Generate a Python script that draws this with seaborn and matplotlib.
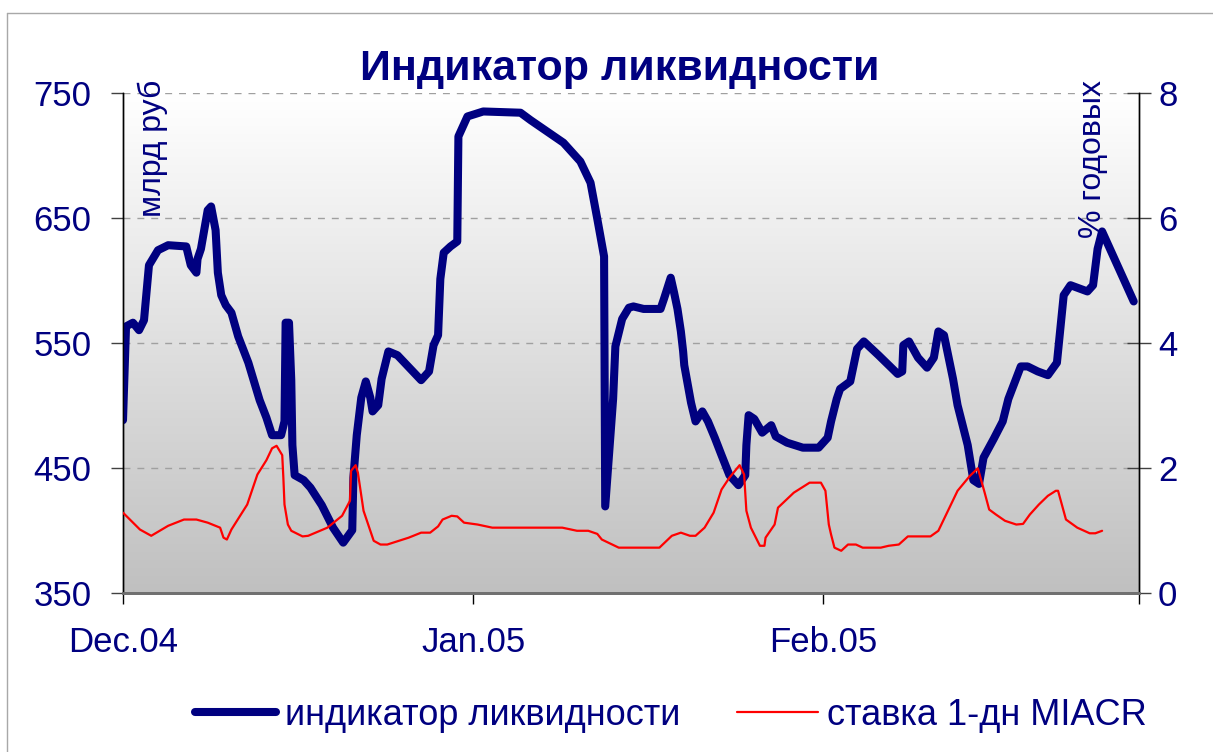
import numpy as np
import pandas as pd
import matplotlib.pyplot as plt
from matplotlib.colors import LinearSegmentedColormap
from matplotlib.lines import Line2D
import seaborn as sns

# liquidity indicator, bn rub; x = days since 1 Dec 2004
liq_days = [0.0, 0.27, 0.88, 1.42, 1.86, 2.3, 3.1, 4.0, 5.6, 6.0, 6.5, 6.6, 6.9, 7.5, 7.8, 8.2,
            8.4, 8.7, 9.1, 9.6, 10.2, 11.1, 12.1, 12.7, 13.2, 14.0, 14.3, 14.4, 14.7, 14.9, 15.0,
            15.2, 16.0, 16.6, 17.6, 18.6, 19.5, 20.3, 20.4, 20.7, 21.1, 21.5, 21.9, 22.1, 22.6,
            22.9, 23.5, 24.3, 26.4, 27.1, 27.5, 27.9, 28.1, 28.4, 29.0, 29.6, 29.7, 30.5, 31.9,
            35.2, 36.1, 39.0, 40.5, 41.4, 42.0, 42.6, 42.7, 43.4, 43.6, 44.2, 44.8, 45.2, 46.1,
            47.6, 47.9, 48.5, 48.8, 49.1, 49.4, 49.6, 49.7, 50.3, 50.7, 51.3, 51.8, 52.4, 53.0,
            53.7, 54.5, 55.1, 55.2, 55.4, 55.9, 56.6, 57.4, 57.8, 58.8, 60.2, 61.6, 62.4, 62.7,
            63.2, 63.5, 64.4, 65.0, 65.6, 66.9, 68.6, 69.0, 69.1, 69.6, 70.4, 71.2, 71.8, 72.2,
            72.7, 73.5, 73.9, 74.8, 75.3, 75.8, 76.2, 77.1, 77.9, 78.4, 79.5, 80.1, 81.0, 81.9,
            82.7, 83.3, 83.9, 85.4, 85.9, 86.3, 86.7, 87.4, 88.1, 89.5]
liq_vals = [488, 563, 566, 560, 568, 612, 624, 628, 627, 612, 606, 617, 625, 656, 659, 640,
            606, 588, 580, 574, 555, 534, 504, 490, 476, 476, 487, 566, 566, 520, 468,
            444, 440, 434, 420, 402, 390, 400, 442, 476, 506, 519, 506, 495, 500,
            521, 543, 540, 520, 527, 548, 556, 601, 622, 627, 631, 715, 731, 735,
            734, 728, 710, 695, 678, 649, 619, 419, 505, 547, 569, 578, 579, 577,
            577, 585, 602, 590, 577, 559, 543, 532, 502, 487, 495, 487, 474, 460,
            444, 436, 444, 468, 492, 489, 478, 484, 475, 470, 466, 466, 474, 487,
            505, 513, 519, 545, 551, 540, 525, 527, 548, 551, 538, 530, 538, 559,
            556, 521, 500, 468, 440, 437, 458, 473, 487, 505, 531, 531, 527, 524,
            534, 588, 596, 591, 596, 625, 639, 625, 611, 583]

# overnight MIACR, % p.a.
rate_days = [0.0, 1.5, 2.5, 4.0, 5.4, 6.5, 7.5, 8.6, 8.9, 9.2, 9.6, 11.0, 11.9, 12.7, 13.2,
             13.6, 14.1, 14.2, 14.3, 14.6, 14.9, 15.9, 16.4, 18.1, 19.4, 20.1, 20.2, 20.6,
             20.8, 21.3, 22.2, 22.8, 23.4, 25.3, 26.4, 27.2, 27.9, 28.3, 29.1, 29.6, 30.2,
             31.4, 32.7, 38.9, 40.2, 41.2, 42.0, 42.4, 43.9, 47.5, 48.6, 49.4, 50.2, 50.7,
             51.5, 52.3, 53.0, 53.7, 54.6, 55.0, 55.2, 55.6, 56.4, 56.8, 56.9, 57.7, 58.0,
             59.4, 60.8, 61.8, 62.2, 62.5, 62.7, 63.0, 63.6, 64.2, 64.9, 65.5, 67.1, 67.8,
             68.7, 69.5, 71.5, 72.2, 73.9, 75.0, 75.7, 76.3, 76.7, 77.3, 78.1, 79.1, 79.7,
             80.3, 81.1, 81.9, 82.6, 82.8, 83.5, 84.5, 85.6, 86.1, 86.7]
rate_vals = [1.28, 1.01, 0.91, 1.07, 1.17, 1.17, 1.12, 1.04, 0.88, 0.85, 1.01, 1.41, 1.89, 2.12, 2.31,
             2.35, 2.20, 1.84, 1.41, 1.09, 0.99, 0.90, 0.91, 1.04, 1.23, 1.47, 1.95, 2.04,
             1.92, 1.31, 0.83, 0.77, 0.77, 0.88, 0.96, 0.96, 1.06, 1.17, 1.23, 1.22, 1.12,
             1.09, 1.04, 1.04, 0.99, 0.99, 0.94, 0.85, 0.72, 0.72, 0.91, 0.96, 0.91, 0.91,
             1.04, 1.28, 1.65, 1.84, 2.04, 1.89, 1.31, 1.04, 0.75, 0.75, 0.88, 1.09, 1.36,
             1.60, 1.76, 1.76, 1.63, 1.09, 0.93, 0.72, 0.67, 0.77, 0.77, 0.72, 0.72, 0.75,
             0.77, 0.90, 0.90, 0.99, 1.63, 1.87, 1.99, 1.60, 1.33, 1.25, 1.15, 1.09, 1.10,
             1.25, 1.41, 1.55, 1.63, 1.63, 1.17, 1.04, 0.95, 0.95, 0.99]

month_ticks = ['2004-12-01', '2005-01-01', '2005-02-01', '2005-03-01']
month_labels = ['Dec.04', 'Jan.05', 'Feb.05', '']

start = pd.Timestamp('2004-12-01')
liq = pd.DataFrame({'date': start + pd.to_timedelta(liq_days, unit='D'), 'val': liq_vals})
rate = pd.DataFrame({'date': start + pd.to_timedelta(rate_days, unit='D'), 'val': rate_vals})

sns.set_style('white')
plt.rcParams['font.family'] = ['Liberation Sans', 'DejaVu Sans']
navy = '#000080'

fig = plt.figure(figsize=(12.13, 7.52), dpi=100)
ax = fig.add_axes([0.1014, 0.2119, 0.8379, 0.6648])
ax2 = ax.twinx()

# grey gradient background
cmap = LinearSegmentedColormap.from_list('bg', ['#c0c0c0', '#ffffff'])
ax.imshow(np.linspace(0, 1, 256).reshape(-1, 1), cmap=cmap, extent=[0, 1, 0, 1],
          transform=ax.transAxes, aspect='auto', origin='lower', zorder=0)

sns.lineplot(data=liq, x='date', y='val', ax=ax, color=navy, lw=5.8, sort=False,
             estimator=None, zorder=3)
sns.lineplot(data=rate, x='date', y='val', ax=ax2, color='#ff0000', lw=1.6, sort=False,
             estimator=None, zorder=3)

ax.set_xlim(pd.Timestamp('2004-12-01'), pd.Timestamp('2005-03-01'))
ax.set_ylim(350, 750)
ax2.set_ylim(0, 8)
ax.set_yticks([350, 450, 550, 650, 750])
ax2.set_yticks([0, 2, 4, 6, 8])
ax.set_xticks(pd.to_datetime(month_ticks))
ax.set_xticklabels(month_labels)

for a in (ax, ax2):
    a.set_xlabel('')
    a.set_ylabel('')
    a.spines['top'].set_visible(False)
    a.spines['left'].set_color('black')
    a.spines['right'].set_color('black')
    a.spines['bottom'].set_color('#707070')
    a.spines['bottom'].set_linewidth(2)
    a.spines['left'].set_linewidth(1)
    a.spines['right'].set_linewidth(1)

ax.yaxis.grid(True, linestyle=(0, (5, 5)), color='#a0a0a0', lw=1)
ax.tick_params(axis='y', direction='out', length=8.5, width=1, color='#404040',
               labelsize=25, labelcolor=navy, pad=14, left=True)
ax2.tick_params(axis='y', direction='inout', length=17, width=1, color='#404040',
                labelsize=25, labelcolor=navy, pad=5, right=True)
ax.tick_params(axis='x', direction='out', length=8, width=1, color='black',
               labelsize=25, labelcolor=navy, pad=16, bottom=True)

fig.text(0.511, 0.8936, 'Индикатор ликвидности', ha='center', va='baseline',
         fontsize=31, fontweight='bold', color=navy)
fig.text(0.126, 0.8936, 'млрд руб', rotation=90, ha='center', va='top',
         fontsize=23, color=navy)
fig.text(0.901, 0.8936, '% годовых', rotation=90, ha='center', va='top',
         fontsize=23, color=navy)

handles = [Line2D([], [], color=navy, lw=5.8, solid_capstyle='round'),
           Line2D([], [], color='#ff0000', lw=1.6)]
fig.legend(handles, ['индикатор ликвидности', 'ставка 1-дн MIACR'], loc='center',
           bbox_to_anchor=(0.553, 0.049), ncol=2, frameon=False, fontsize=26,
           labelcolor=navy, handlelength=2.25, handletextpad=0.25, columnspacing=1.55,
           borderpad=0, borderaxespad=0)

# thin outer frame of the chart area (left and top edges visible)
fig.add_artist(Line2D([7 / 1213, 7 / 1213], [0, 1 - 13 / 752], transform=fig.transFigure,
                      color='#a8a8a8', lw=1))
fig.add_artist(Line2D([7 / 1213, 1], [1 - 13 / 752, 1 - 13 / 752], transform=fig.transFigure,
                      color='#a8a8a8', lw=1))

fig.savefig('out.png', dpi=100)
